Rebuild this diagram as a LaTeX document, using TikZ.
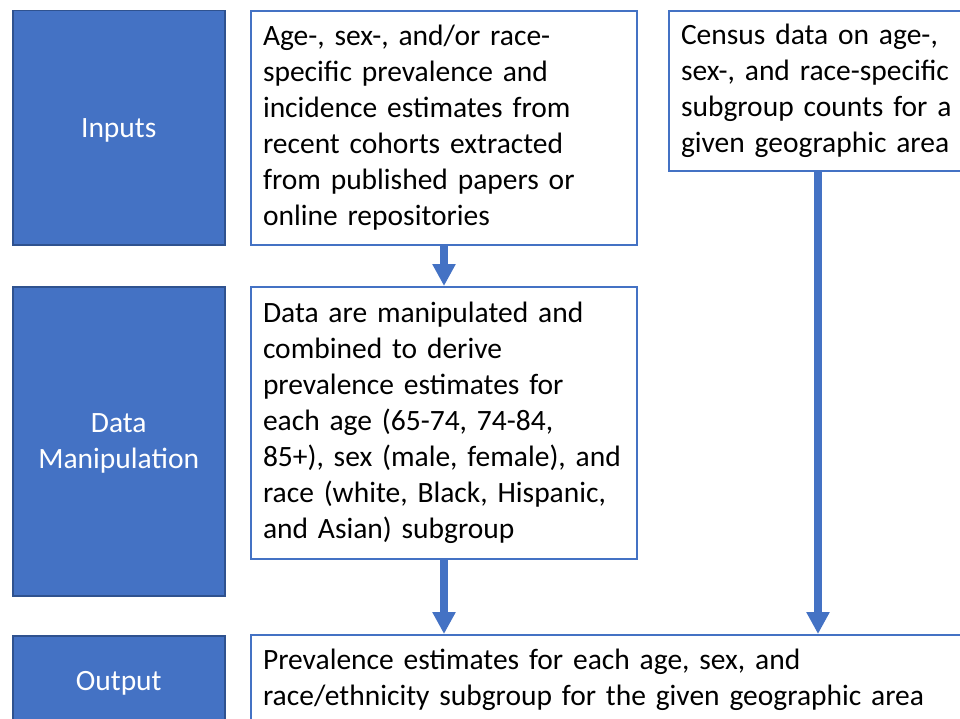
\documentclass[tikz,border=0pt]{standalone}
\usepackage{fontspec}
\setmainfont{Carlito}
\usetikzlibrary{arrows.meta}
\definecolor{stageblue}{HTML}{4472C4}
\definecolor{stageedge}{HTML}{2F528F}
\tikzset{
  stage/.style={draw=stageedge, line width=1.5pt, fill=stageblue, text=white,
    align=center, minimum width=212pt, anchor=north west, inner sep=0pt},
  info/.style={draw=stageblue, line width=2pt, fill=white, align=left,
    inner xsep=12pt, inner ysep=0pt, anchor=north west},
  flow/.style={stageblue, line width=8pt, -{Triangle[length=22pt,width=22pt]}}
}
\begin{document}
\begin{tikzpicture}[x=1pt,y=-1pt,font=\fontsize{29.5}{36}\selectfont]
			\useasboundingbox (0,0) rectangle (960,719);
			\clip (0,0) rectangle (960,719);
			% stage labels
			\node[stage, minimum height=234pt, text depth=-2pt] (inputs) at (12,10) {Inputs};
			\node[stage, minimum height=309pt, text depth=-2pt] (manip) at (12,286) {Data\\Manipulation};
			\node[stage, minimum height=90pt, text depth=-2pt] (output) at (12,635) {Output};
			% boxes
			\node[info, text width=362pt, minimum height=234pt] (lit) at (250,10)
				{Age-, sex-, and/or race-\\specific prevalence and\\incidence estimates from\\recent cohorts extracted\\from published papers or\\online repositories};
			\node[info, text width=292pt, minimum height=160pt] (census) at (668,10)
				{Census data on age-,\\sex-, and race-specific\\subgroup counts for a\\given geographic area};
			\node[info, text width=696pt, minimum height=90pt] (prev) at (250,634)
				{Prevalence estimates for each age, sex, and\\race/ethnicity subgroup for the given geographic area};
			\node[info, text width=362pt, minimum height=272pt] (derive) at (250,286)
				{Data are manipulated and\\combined to derive\\prevalence estimates for\\each age (65-74, 74-84,\\85+), sex (male, female), and\\race (white, Black, Hispanic,\\and Asian) subgroup};
			% arrows
			\draw[flow] (lit.south) -- (derive.north);
			\draw[flow] (derive.south) -- (derive.south |- prev.north);
			\draw[flow] ([xshift=-9pt]census.south) -- ([xshift=-9pt]census.south |- prev.north);
		\end{tikzpicture}
\end{document}
